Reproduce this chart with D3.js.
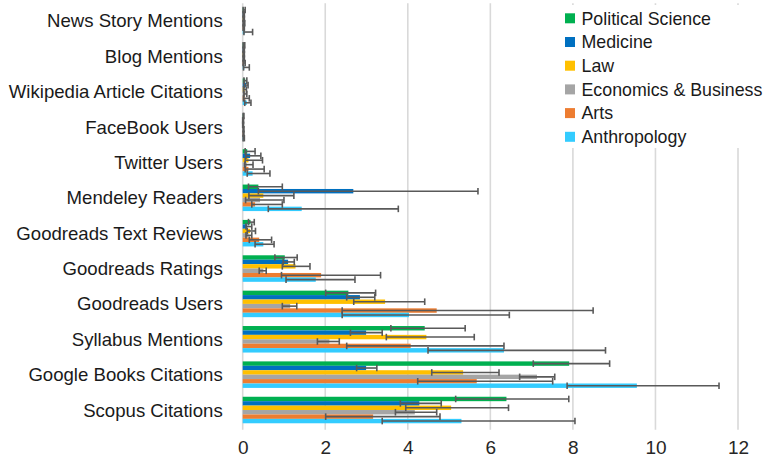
<!DOCTYPE html>
<html>
<head>
<meta charset="utf-8">
<script src="https://cdn.jsdelivr.net/npm/d3@7"></script>
<style>
  body { margin: 0; background: #fff; }
  svg { display: block; font-family: "Liberation Sans", Arial, sans-serif; }
</style>
</head>
<body>
<svg width="764" height="464"></svg>
<script>
// categories, top to bottom
var categories = ["News Story Mentions", "Blog Mentions", "Wikipedia Article Citations", "FaceBook Users",
  "Twitter Users", "Mendeley Readers", "Goodreads Text Reviews", "Goodreads Ratings",
  "Goodreads Users", "Syllabus Mentions", "Google Books Citations", "Scopus Citations"];

var seriesNames = ["Political Science", "Medicine", "Law", "Economics & Business", "Arts", "Anthropology"];
var seriesColors = ["#00b050", "#0070c0", "#ffc000", "#a5a5a5", "#ed7d31", "#33ccff"];

var xTicks = [0, 2, 4, 6, 8, 10, 12];

// bar values
var polSci = [0.03, 0.03, 0.06, 0.02, 0.11, 0.38, 0.19, 1.02, 2.56, 4.41, 7.91, 6.39];
var medicine = [0.02, 0.02, 0.08, 0.01, 0.18, 2.68, 0.11, 1.10, 2.84, 2.99, 2.99, 4.28];
var law = [0.02, 0.02, 0.05, 0.01, 0.14, 0.50, 0.18, 1.28, 3.45, 4.45, 5.34, 5.05];
var econ = [0.03, 0.02, 0.06, 0.02, 0.10, 0.42, 0.14, 0.50, 1.15, 2.10, 7.13, 4.17];
var arts = [0.02, 0.03, 0.05, 0.02, 0.14, 0.30, 0.40, 1.90, 4.70, 4.07, 5.67, 3.16];
var anthro = [0.05, 0.04, 0.10, 0.02, 0.24, 1.43, 0.50, 1.77, 4.03, 6.33, 9.55, 5.30];

// error bar lower ends
var polSciLo = [0.01, 0.01, 0.03, 0.01, 0.06, 0.14, 0.14, 0.78, 2.01, 3.59, 7.04, 5.16];
var medicineLo = [0.01, 0.01, 0.04, 0.00, 0.08, 0.38, 0.08, 0.98, 2.52, 2.61, 2.76, 3.82];
var lawLo = [0.01, 0.01, 0.02, 0.00, 0.06, 0.15, 0.11, 0.96, 2.69, 3.48, 4.58, 3.95];
var econLo = [0.01, 0.01, 0.03, 0.01, 0.05, 0.07, 0.08, 0.40, 0.96, 1.81, 6.71, 3.70];
var artsLo = [0.01, 0.01, 0.02, 0.01, 0.06, 0.22, 0.16, 0.94, 2.41, 2.52, 4.24, 2.01];
var anthroLo = [0.03, 0.02, 0.05, 0.01, 0.11, 0.62, 0.30, 1.05, 2.41, 4.49, 7.86, 3.38];

// error bar upper ends
var polSciHi = [0.06, 0.05, 0.10, 0.03, 0.30, 0.96, 0.28, 1.32, 3.22, 5.39, 8.89, 7.90];
var medicineHi = [0.04, 0.04, 0.13, 0.02, 0.44, 5.70, 0.22, 1.25, 3.20, 3.38, 3.25, 4.81];
var lawHi = [0.04, 0.04, 0.09, 0.02, 0.48, 1.24, 0.31, 1.63, 4.41, 5.61, 6.21, 6.44];
var econHi = [0.05, 0.04, 0.10, 0.03, 0.25, 1.00, 0.22, 0.57, 1.31, 2.34, 7.56, 4.70];
var artsHi = [0.04, 0.06, 0.16, 0.03, 0.52, 0.96, 0.70, 3.34, 8.49, 6.33, 7.51, 4.78];
var anthroHi = [0.24, 0.16, 0.20, 0.04, 0.66, 3.77, 0.76, 2.72, 6.46, 8.79, 11.54, 8.05];

var values = [polSci, medicine, law, econ, arts, anthro];
var lows = [polSciLo, medicineLo, lawLo, econLo, artsLo, anthroLo];
var highs = [polSciHi, medicineHi, lawHi, econHi, artsHi, anthroHi];

var svg = d3.select("svg"),
  margin = { top: 3.3, left: 242.7, right: 26, bottom: 36.3 },
  width = 764 - margin.left - margin.right,
  height = 464 - margin.top - margin.bottom,
  g = svg.append("g").attr("transform", "translate(" + margin.left + "," + margin.top + ")");

var x = d3.scaleLinear().domain([0, 12]).range([0, width]);
var y = d3.scaleBand().domain(categories).range([0, height]).paddingInner(0.25).paddingOuter(0.125);
var yInner = d3.scaleBand().domain(seriesNames).range([0, y.bandwidth()]);

// gridlines
g.append("g")
  .selectAll("line")
  .data(xTicks)
  .enter().append("line")
  .attr("x1", function(d) { return x(d); })
  .attr("x2", function(d) { return x(d); })
  .attr("y1", 0)
  .attr("y2", height + 2)
  .attr("stroke", "#d9d9d9")
  .attr("stroke-width", 1.6);

// bottom axis labels
var xAxis = g.append("g")
  .attr("transform", "translate(0," + height + ")")
  .call(d3.axisBottom(x).tickValues(xTicks).tickSize(0).tickPadding(13));
xAxis.select(".domain").remove();
xAxis.selectAll("text")
  .attr("font-size", 19)
  .attr("font-family", "Liberation Sans, Arial, sans-serif")
  .attr("fill", "#262626");

// category labels
g.append("g")
  .selectAll("text")
  .data(categories)
  .enter().append("text")
  .attr("x", -20)
  .attr("y", function(d) { return y(d) + y.bandwidth() / 2; })
  .attr("dy", "0.35em")
  .attr("text-anchor", "end")
  .attr("font-size", 18.6)
  .attr("fill", "#1a1a1a")
  .text(function(d) { return d; });

// bars, one group per series
seriesNames.forEach(function(name, s) {
  var rows = categories.map(function(c, i) {
    return { cat: c, v: values[s][i] };
  });
  g.append("g")
    .selectAll("rect")
    .data(rows)
    .enter().append("rect")
    .attr("x", x(0))
    .attr("y", function(d) { return y(d.cat) + yInner(name); })
    .attr("width", function(d) { return x(d.v) - x(0); })
    .attr("height", yInner.bandwidth())
    .attr("fill", seriesColors[s]);
});

// error bars on top
seriesNames.forEach(function(name, s) {
  var eg = g.append("g")
    .attr("stroke", "#595959")
    .attr("stroke-width", 1.6);
  categories.forEach(function(c, i) {
    var lo = lows[s][i], hi = highs[s][i];
    var cy = y(c) + yInner(name) + yInner.bandwidth() / 2;
    eg.append("line")
      .attr("x1", x(lo)).attr("x2", x(hi))
      .attr("y1", cy).attr("y2", cy);
    [lo, hi].forEach(function(v) {
      eg.append("line")
        .attr("x1", x(v)).attr("x2", x(v))
        .attr("y1", cy - 3.3).attr("y2", cy + 3.3);
    });
  });
});

// legend
var legend = svg.append("g").attr("transform", "translate(560,5)");
legend.append("rect")
  .attr("x", 0).attr("y", 0)
  .attr("width", 204).attr("height", 143)
  .attr("fill", "#fff");
seriesNames.forEach(function(name, s) {
  var ly = 13.3 + s * 23.7;
  legend.append("rect")
    .attr("x", 5).attr("y", ly - 5)
    .attr("width", 10).attr("height", 10)
    .attr("fill", seriesColors[s]);
  legend.append("text")
    .attr("x", 21.5).attr("y", ly)
    .attr("dy", "0.35em")
    .attr("font-size", 17.8)
    .attr("fill", "#1a1a1a")
    .text(name);
});
</script>
</body>
</html>
